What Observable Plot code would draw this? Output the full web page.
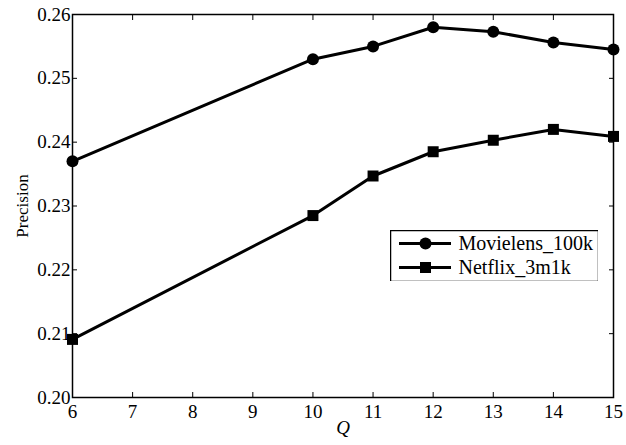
<!DOCTYPE html>
<html>
<head>
<meta charset="utf-8">
<script src="https://cdn.jsdelivr.net/npm/d3@7"></script>
<script src="https://cdn.jsdelivr.net/npm/@observablehq/plot@0.6"></script>
<style>
  html, body { margin: 0; padding: 0; background: #fff; }
  #wrap { position: relative; width: 626px; height: 445px; }
  #legend { position: absolute; left: 390px; top: 230px; }
</style>
</head>
<body>
<div id="wrap"></div>
<script>
const qValues = [6, 10, 11, 12, 13, 14, 15];
const movielens = [0.2370, 0.2530, 0.2550, 0.2580, 0.2573, 0.2556, 0.2545];
const netflix = [0.2091, 0.2285, 0.2347, 0.2385, 0.2403, 0.2420, 0.2409];
const seriesNames = ["Movielens_100k", "Netflix_3m1k"];
const seriesSymbols = ["circle", "square"];
const xTicks = [6, 7, 8, 9, 10, 11, 12, 13, 14, 15];
const yTicks = [0.20, 0.21, 0.22, 0.23, 0.24, 0.25, 0.26];

const data = [];
qValues.forEach((q, i) => {
  data.push({q, v: movielens[i], s: seriesNames[0]});
  data.push({q, v: netflix[i], s: seriesNames[1]});
});

const chart = Plot.plot({
  width: 626, height: 445,
  marginLeft: 72, marginRight: 13, marginTop: 14, marginBottom: 48,
  style: {fontFamily: "Liberation Serif", fontSize: "19px", color: "#000", background: "#fff"},
  x: {domain: [6, 15]},
  y: {domain: [0.20, 0.26]},
  marks: [
    Plot.axisX({ticks: xTicks, tickSize: -5, tickPadding: 12, tickFormat: d => String(d),
      label: "Q", labelAnchor: "center", labelOffset: 36, labelArrow: "none", fontSize: 19}),
    Plot.axisX({anchor: "top", ticks: xTicks, tickSize: -5, tickFormat: () => "", label: null}),
    Plot.axisY({ticks: yTicks, tickSize: -5, tickPadding: 7, tickFormat: d => d.toFixed(2),
      label: "Precision", labelAnchor: "center", labelOffset: 57, labelArrow: "none", fontSize: 19}),
    Plot.axisY({anchor: "right", ticks: yTicks, tickSize: -5, tickFormat: () => "", label: null}),
    Plot.lineY(data, {x: "q", y: "v", z: "s", stroke: "#000", strokeWidth: 3}),
    Plot.dot(data.filter(d => d.s === seriesNames[0]), {x: "q", y: "v", r: 6, fill: "#000", symbol: "circle"}),
    Plot.dot(data.filter(d => d.s === seriesNames[1]), {x: "q", y: "v", r: 6.2, fill: "#000", symbol: "square"}),
    Plot.frame({stroke: "#000", strokeWidth: 1.5})
  ]
});
const wrap = document.getElementById("wrap");
wrap.appendChild(chart);
chart.querySelectorAll("text").forEach(t => {
  if (t.textContent === "Q") t.setAttribute("font-style", "italic");
  if (t.textContent === "Precision") t.setAttribute("font-size", "17");
});

// legend as a small Plot in its own pixel space
const legendRows = seriesNames.map((name, i) => ({name, symbol: seriesSymbols[i], row: i}));
const rowY = d => 13 + d.row * 24;
const legendPlot = Plot.plot({
  width: 208, height: 51,
  margin: 0,
  style: {fontFamily: "Liberation Serif", fontSize: "20px", color: "#000", background: "#fff"},
  x: {domain: [0, 208], axis: null},
  y: {domain: [0, 51], reverse: true, axis: null},
  marks: [
    Plot.ruleY(legendRows, {y: rowY, x1: 9, x2: 61, stroke: "#000", strokeWidth: 3}),
    Plot.dot(legendRows.filter(d => d.symbol === "circle"), {x: 35, y: rowY, symbol: "circle", r: 6, fill: "#000"}),
    Plot.dot(legendRows.filter(d => d.symbol === "square"), {x: 35, y: rowY, symbol: "square", r: 6.2, fill: "#000"}),
    Plot.text(legendRows, {x: 68, y: rowY, text: "name", textAnchor: "start", fontSize: 20}),
    Plot.frame({stroke: "#000", strokeWidth: 1.5})
  ]
});
legendPlot.id = "legend";
wrap.appendChild(legendPlot);
</script>
</body>
</html>
